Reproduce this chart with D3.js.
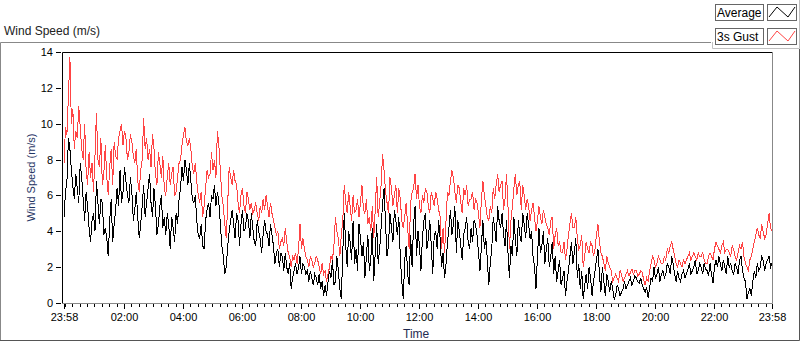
<!DOCTYPE html>
<html>
	<head>
		<meta charset="utf-8">
		<style type="text/css">
			body { margin: 0; background: #fff; font-family: "Liberation Sans", sans-serif; }
			.series { fill: none; stroke-width: 1; shape-rendering: crispEdges; }
			.tick line { stroke: #000; shape-rendering: crispEdges; }
			.tick text { fill: #000; font-size: 11px; }
			.domain { display: none; }
		</style>
		<title>Wind Speed</title>
	</head>
	<body>
		<script src="https://cdn.jsdelivr.net/npm/d3@7"></script>
		<script>

// samples every 3 minutes from 23:58 to 23:58 next day (m/s)
var average = [
	4.8,6.2,6.8,9.2,8.6,7.4,6.5,5.8,7.2,6.4,
	5.6,7.8,7.0,5.8,4.6,6.2,5.4,4.2,3.4,4.6,
	5.0,4.0,6.8,5.6,4.4,5.8,5.6,3.8,4.2,3.6,
	2.6,4.6,5.8,3.4,4.4,5.2,6.4,5.4,7.4,5.6,
	6.2,7.6,6.8,6.0,5.6,7.0,6.2,4.6,5.2,6.2,
	4.8,3.6,4.4,5.4,6.6,4.8,5.6,6.4,7.2,5.6,
	4.8,6.4,5.4,3.8,4.4,5.4,6.0,4.2,4.8,3.8,
	5.0,4.4,3.0,4.8,4.2,3.4,5.0,4.4,5.8,6.4,
	7.6,6.8,8.0,7.4,6.6,7.8,6.8,5.8,5.6,6.0,
	4.6,3.8,3.6,4.4,3.2,3.0,4.6,5.2,5.6,4.8,
	6.0,5.8,6.6,5.4,6.2,5.6,4.4,3.2,2.6,1.6,
	2.0,3.2,4.0,4.6,5.2,4.4,3.6,5.0,4.6,3.2,
	4.4,5.2,4.0,4.2,5.0,4.6,3.6,5.0,4.2,3.4,
	3.2,4.6,4.0,3.6,2.8,3.8,4.6,4.0,3.8,3.2,
	4.4,3.8,3.2,2.2,2.8,3.0,2.0,2.8,2.6,1.8,
	2.8,2.0,1.6,2.2,0.8,1.4,1.8,2.2,1.6,2.0,
	2.6,1.6,2.2,2.0,1.6,1.8,1.2,1.8,1.4,1.0,
	1.6,1.4,1.0,1.6,0.8,1.2,0.4,1.0,0.4,1.2,
	1.8,1.4,2.4,1.0,1.2,2.6,1.8,0.8,0.2,2.8,
	5.0,3.2,2.0,4.0,3.4,2.4,4.6,2.2,3.0,1.8,
	4.4,3.6,2.6,3.4,1.4,2.6,3.8,1.8,2.4,4.2,
	1.2,2.8,4.4,2.2,3.0,4.2,5.6,6.4,4.4,2.6,
	3.2,5.0,4.2,3.4,5.2,4.6,3.8,4.8,2.6,1.2,
	0.2,2.4,3.2,1.6,1.0,3.8,2.0,4.4,5.4,2.6,
	4.0,3.2,1.8,3.6,4.6,5.0,3.0,3.6,4.6,3.2,
	1.6,3.8,4.0,3.0,4.6,3.6,2.0,2.8,1.4,2.2,
	3.4,4.2,5.2,3.8,4.4,5.4,2.8,4.6,4.0,3.2,
	2.4,3.8,4.2,4.8,3.4,3.0,4.2,3.4,4.6,4.4,
	3.8,2.8,1.8,3.2,4.6,3.0,3.6,2.4,1.0,2.2,
	3.0,4.8,4.2,3.4,5.4,4.6,4.2,5.0,3.8,3.2,
	4.6,2.8,1.4,3.2,2.6,4.8,3.6,2.6,4.6,3.8,
	3.4,5.0,4.4,3.6,5.0,4.4,3.6,4.0,2.6,2.0,
	0.8,2.6,4.2,2.8,3.2,4.0,2.2,3.0,3.6,2.0,
	2.6,3.4,1.6,2.6,1.2,1.8,2.4,1.0,1.4,1.8,
	0.4,1.2,1.8,2.6,3.4,2.2,2.8,3.6,1.4,2.2,
	0.8,1.8,0.2,1.0,1.6,0.8,2.0,1.4,0.4,1.2,
	1.8,2.4,3.0,1.6,0.6,2.0,1.2,0.4,1.6,1.2,
	0.6,1.2,0.8,0.2,0.4,1.0,0.8,0.4,0.6,0.8,
	1.2,0.8,1.0,1.2,1.4,1.0,1.2,1.5,1.4,1.2,
	1.1,1.4,1.0,0.8,0.6,0.9,0.3,0.8,1.4,1.2,
	2.0,1.4,1.6,2.0,1.2,1.6,1.8,1.4,1.6,2.2,
	2.0,1.6,2.6,2.2,1.6,1.2,1.8,1.4,1.2,1.6,
	1.8,1.4,1.6,1.9,2.2,1.6,1.8,2.0,2.4,1.6,
	1.8,2.2,2.0,1.6,2.2,1.9,1.8,1.5,2.2,1.6,
	1.1,2.0,2.4,2.0,2.6,2.2,1.8,2.4,2.0,1.6,
	2.6,2.0,2.2,1.8,1.6,2.2,2.0,1.6,2.4,2.6,
	1.8,1.4,1.2,0.2,0.6,0.8,0.4,1.2,1.8,1.4,
	2.2,1.8,2.0,2.6,2.4,1.8,2.2,2.4,2.6,2.0,
	2.2
];

var gust = [
	7.8,9.8,9.4,11.6,13.7,10.0,10.8,8.6,9.6,9.2,
	11.0,9.8,8.6,8.0,10.0,7.4,6.6,8.4,7.0,7.8,
	6.2,8.2,10.6,8.0,7.6,9.2,6.6,7.2,8.8,7.0,
	6.0,7.6,8.6,6.6,9.0,8.2,8.0,9.2,9.6,10.0,
	8.8,9.6,9.2,8.0,8.4,9.4,9.0,8.2,7.8,8.6,
	6.8,6.2,7.4,8.0,10.3,8.6,9.2,8.0,8.6,7.6,
	9.4,8.6,7.2,6.6,8.4,7.8,7.0,8.2,6.4,6.0,
	7.0,7.8,6.6,7.2,7.6,6.0,6.2,7.0,7.8,8.0,
	8.8,9.4,9.8,9.0,8.8,9.2,8.6,7.6,7.2,7.8,
	6.8,6.0,5.6,6.2,4.8,5.4,6.4,7.4,7.0,7.2,
	8.4,7.4,8.0,7.0,9.6,8.8,7.4,6.0,5.4,4.4,
	3.6,5.6,7.6,7.0,6.6,7.4,6.8,6.6,5.6,5.0,
	6.0,6.4,5.4,5.0,6.2,5.8,5.2,5.6,5.0,5.2,
	5.6,5.0,4.6,5.4,5.0,5.8,5.2,6.0,5.4,4.8,
	5.6,5.0,4.6,4.2,3.8,4.0,3.0,3.4,3.6,3.2,
	4.2,3.4,2.8,2.6,2.0,2.6,2.4,2.8,2.2,3.0,
	4.4,3.0,3.6,3.0,2.6,2.4,2.0,2.6,2.4,2.0,
	2.2,2.6,2.4,2.0,1.6,2.2,1.6,1.8,1.2,1.6,
	2.0,2.6,2.4,3.2,4.8,4.0,3.6,2.6,3.8,4.6,
	6.6,5.6,5.0,6.2,5.4,4.6,6.0,5.0,5.2,5.8,
	4.8,5.6,6.6,5.2,5.0,5.8,4.4,4.8,4.0,5.4,
	3.6,5.2,7.0,4.8,5.6,6.6,8.3,7.4,6.2,5.6,
	5.0,7.0,6.4,5.4,6.0,6.6,5.0,6.4,5.8,4.6,
	4.2,4.8,5.6,4.2,3.0,5.6,6.2,6.4,7.2,5.8,
	6.6,5.4,5.0,6.0,5.6,6.4,6.2,5.4,5.0,6.2,
	5.8,5.4,6.2,5.8,5.2,4.8,3.0,4.2,2.8,4.6,
	6.2,6.0,6.8,7.4,7.0,6.2,5.6,6.6,6.4,5.6,
	5.0,6.4,6.0,6.6,5.4,5.8,5.8,6.2,5.2,5.8,
	5.6,5.0,4.2,5.8,6.8,6.0,5.4,4.8,4.6,5.4,
	5.0,6.4,5.8,6.6,7.2,6.2,6.6,6.8,5.2,5.8,
	7.2,5.4,3.0,4.6,5.4,6.4,7.2,6.0,6.6,6.8,
	5.2,6.6,6.0,5.2,5.8,5.4,4.6,5.2,5.6,4.8,
	4.0,4.6,5.4,4.8,4.4,5.2,4.8,4.4,4.2,3.8,
	4.6,4.8,3.0,3.8,4.2,3.2,3.4,2.8,2.8,3.4,
	2.4,3.0,3.8,4.4,5.0,4.2,4.2,4.8,3.6,3.0,
	3.2,3.8,2.0,2.6,3.4,3.0,2.8,3.4,3.2,2.6,
	3.0,3.8,4.4,3.4,2.8,2.6,2.2,1.8,2.6,2.2,
	2.0,1.8,1.2,1.4,1.6,1.4,1.2,1.8,1.6,1.2,
	1.4,1.6,1.8,1.5,1.7,1.9,1.6,1.8,1.8,1.5,
	1.6,1.8,1.7,1.3,1.0,1.4,1.2,1.8,2.2,2.6,
	2.4,2.0,2.2,2.6,2.4,2.2,2.2,2.6,2.4,3.0,
	2.8,3.2,3.4,3.0,2.6,2.2,2.0,2.4,2.2,2.0,
	2.4,2.2,2.4,2.6,2.8,2.4,2.6,2.8,2.6,2.4,
	2.8,2.6,2.6,2.8,2.4,2.2,2.2,2.6,2.8,2.6,
	2.4,3.0,3.4,3.2,3.0,2.8,3.2,3.4,2.8,3.0,
	3.0,2.8,2.6,3.2,3.0,2.6,2.4,2.8,3.2,3.0,
	3.4,2.6,2.2,2.0,1.8,2.4,2.6,3.0,3.4,3.8,
	4.2,3.8,3.6,4.4,4.0,3.6,3.8,4.4,5.0,4.2,
	4.0
];

var tickLabels = ["23:58","02:00","04:00","06:00","08:00","10:00","12:00",
	"14:00","16:00","18:00","20:00","22:00","23:58"];
var yTicks = [0, 2, 4, 6, 8, 10, 12, 14];
var legendNames = ["Average", "3s Gust"];
var legendColors = ["#000", "#ff4444"];

var step = 3; // minutes between samples
var t0 = new Date(2020, 0, 1, 23, 58);
var t1 = new Date(2020, 0, 2, 23, 58);

var plot = {left: 62, top: 52, right: 772, bottom: 303};

var svg = d3.select("body").append("svg")
	.attr("width", 800)
	.attr("height", 342);

var x = d3.scaleTime()
	.domain([t0, t1])
	.range([plot.left + 2, plot.right]);

var y = d3.scaleLinear()
	.domain([0, 14])
	.range([plot.bottom, plot.top]);

// outer frame
svg.append("path")
	.attr("d", "M0.5,341 V42.5 H711")
	.attr("fill", "none").attr("stroke", "#888");
svg.append("path")
	.attr("d", "M0,340.5 H799.5 V49")
	.attr("fill", "none").attr("stroke", "#555");

svg.append("text")
	.attr("x", 4).attr("y", 35)
	.attr("font-size", 12)
	.attr("fill", "#222")
	.text("Wind Speed (m/s)");

svg.append("rect")
	.attr("x", plot.left).attr("y", plot.top)
	.attr("width", plot.right - plot.left).attr("height", plot.bottom - plot.top)
	.attr("fill", "#fff");

svg.append("clipPath").attr("id", "clip")
	.append("rect")
	.attr("x", plot.left + 1).attr("y", plot.top + 1)
	.attr("width", plot.right - plot.left - 1).attr("height", plot.bottom - plot.top - 1);

var data = average.map((v, i) => ({
	t: d3.timeMinute.offset(t0, i * step),
	avg: v,
	gust: gust[i]
}));

var g = svg.append("g").attr("clip-path", "url(#clip)");

g.append("path")
	.datum(data)
	.attr("class", "series")
	.attr("stroke", legendColors[1])
	.attr("d", d3.line().x(d => x(d.t)).y(d => y(d.gust)));

g.append("path")
	.datum(data)
	.attr("class", "series")
	.attr("stroke", legendColors[0])
	.attr("d", d3.line().x(d => x(d.t)).y(d => y(d.avg)));

// plot borders: dark top/left, grey bottom/right
svg.append("path")
	.attr("d", `M${plot.left + 0.5},${plot.bottom} V${plot.top + 0.5} H${plot.right}`)
	.attr("fill", "none").attr("stroke", "#000");
svg.append("path")
	.attr("d", `M${plot.left},${plot.bottom + 0.5} H${plot.right + 0.5} V${plot.top}`)
	.attr("fill", "none").attr("stroke", "#888");

// axes
var majors = tickLabels.map((s, i) => {
	if (i == 0) return t0;
	if (i == tickLabels.length - 1) return t1;
	var p = s.split(":");
	return new Date(2020, 0, 2, +p[0], +p[1]);
});

svg.append("g")
	.attr("transform", `translate(0,${plot.bottom + 1})`)
	.call(d3.axisBottom(x)
		.tickValues(d3.timeMinute.every(15).range(d3.timeMinute.offset(t0, 2), t1))
		.tickSize(3)
		.tickFormat(""));

svg.append("g")
	.attr("transform", `translate(0,${plot.bottom + 1})`)
	.call(d3.axisBottom(x)
		.tickValues(majors)
		.tickSize(5)
		.tickPadding(4)
		.tickFormat((d, i) => tickLabels[i]));

svg.append("g")
	.attr("transform", `translate(${plot.left - 1},0)`)
	.call(d3.axisLeft(y)
		.tickValues(yTicks)
		.tickSize(5)
		.tickPadding(3));

svg.append("text")
	.attr("transform", `translate(35,${(plot.top + plot.bottom) / 2}) rotate(-90)`)
	.attr("text-anchor", "middle")
	.attr("font-size", 11)
	.attr("fill", "#1f3564")
	.text("Wind Speed (m/s)");

svg.append("text")
	.attr("x", 403).attr("y", 338)
	.attr("font-size", 12)
	.attr("fill", "#1f2a50")
	.text("Time");

// legend
svg.append("path")
	.attr("d", "M712.5,42 V48.5 H799.5 V0")
	.attr("fill", "none").attr("stroke", "#c0c0c0");

var leg = svg.selectAll(".legend")
	.data(legendNames)
	.enter().append("g")
		.attr("class", "legend")
		.attr("transform", (d, i) => `translate(0,${4 + i * 24})`);

leg.append("rect")
	.attr("x", 715.5).attr("y", 0.5)
	.attr("width", 48).attr("height", 16)
	.attr("fill", "#fff").attr("stroke", "#666");
leg.append("text")
	.attr("x", 717).attr("y", 13)
	.attr("font-size", 12)
	.text(d => d);
leg.append("rect")
	.attr("x", 767.5).attr("y", 0.5)
	.attr("width", 29).attr("height", 16)
	.attr("fill", "#fff").attr("stroke", "#666");
leg.append("path")
	.attr("d", "M769,13 L777,3 L788,13 L795,3")
	.attr("fill", "none")
	.attr("stroke", (d, i) => legendColors[i]);

		</script>
	</body>
</html>
